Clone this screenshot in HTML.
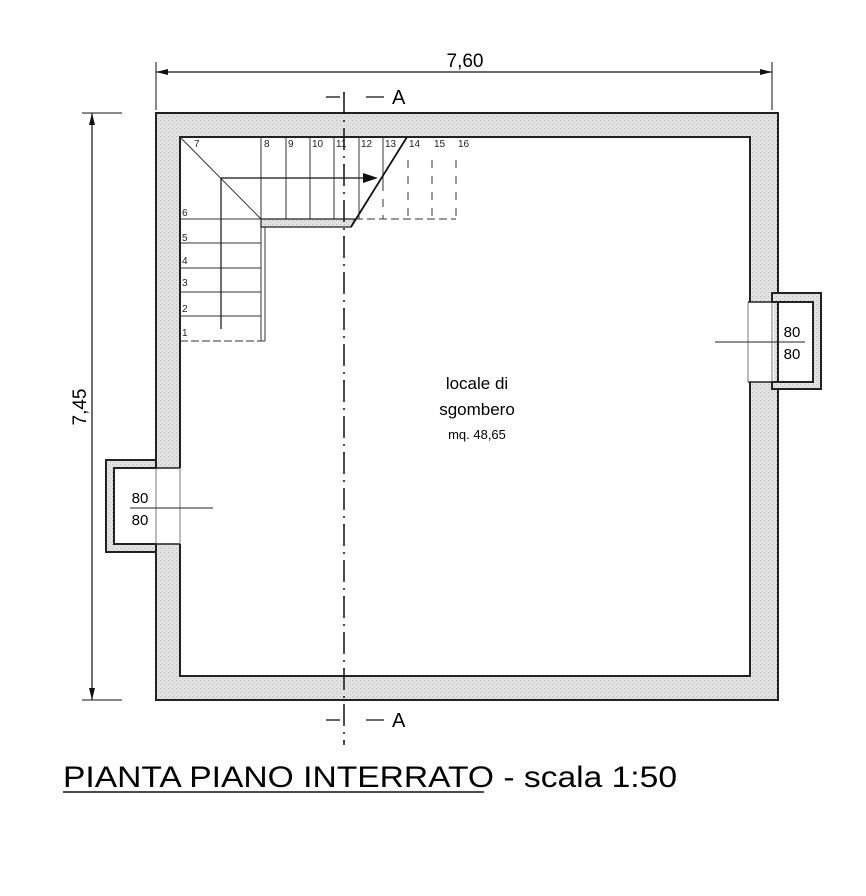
<!DOCTYPE html>
<html><head><meta charset="utf-8"><style>
html,body{margin:0;padding:0;background:#fff;}
svg{display:block;font-family:"Liberation Sans",sans-serif;}
</style></head><body>
<svg width="866" height="896" viewBox="0 0 866 896" xmlns="http://www.w3.org/2000/svg">
<defs>
<pattern id="h" width="4" height="4" patternUnits="userSpaceOnUse">
<rect width="4" height="4" fill="#e2e2e2"/>
<rect x="0" y="0" width="1" height="1" fill="#b8b8b8"/>
<rect x="2" y="2" width="1" height="1" fill="#c4c4c4"/>
</pattern>
</defs>
<!-- walls -->
<path d="M156,113 H778 V700 H156 Z M180,137 V676 H750 V137 Z" fill="url(#h)" fill-rule="evenodd" stroke="#222" stroke-width="2"/>
<!-- right niche -->
<rect x="748" y="302" width="26" height="80" fill="#fff"/>
<path d="M772,293 H821 V389 H772 V382 H813 V302 H772 Z" fill="url(#h)" stroke="#222" stroke-width="2"/>
<line x1="748" y1="302" x2="772" y2="302" stroke="#222" stroke-width="1.5"/>
<line x1="748" y1="382" x2="772" y2="382" stroke="#222" stroke-width="1.5"/>
<line x1="748" y1="302" x2="748" y2="382" stroke="#555" stroke-width="0.8"/>
<line x1="772" y1="302" x2="772" y2="382" stroke="#555" stroke-width="0.8"/>
<line x1="715" y1="342" x2="805" y2="342" stroke="#222" stroke-width="1"/>
<text x="792" y="337" font-size="15" text-anchor="middle">80</text>
<text x="792" y="359" font-size="15" text-anchor="middle">80</text>
<!-- left niche -->
<rect x="154" y="468" width="28" height="76" fill="#fff"/>
<path d="M156,460 H106 V552 H156 V544 H114 V468 H156 Z" fill="url(#h)" stroke="#222" stroke-width="2"/>
<line x1="156" y1="468" x2="180" y2="468" stroke="#222" stroke-width="1.5"/>
<line x1="156" y1="544" x2="180" y2="544" stroke="#222" stroke-width="1.5"/>
<line x1="156" y1="468" x2="156" y2="544" stroke="#555" stroke-width="0.8"/>
<line x1="180" y1="468" x2="180" y2="544" stroke="#555" stroke-width="0.8"/>
<line x1="130" y1="508" x2="213" y2="508" stroke="#222" stroke-width="1"/>
<text x="140" y="503" font-size="15" text-anchor="middle">80</text>
<text x="140" y="525" font-size="15" text-anchor="middle">80</text>
<!-- stairs -->
<g stroke="#333" stroke-width="1" fill="none">
<line x1="180" y1="137" x2="261" y2="219"/>
<line x1="180" y1="219" x2="261" y2="219"/>
<line x1="180" y1="243" x2="261" y2="243"/>
<line x1="180" y1="268" x2="261" y2="268"/>
<line x1="180" y1="292" x2="261" y2="292"/>
<line x1="180" y1="316" x2="261" y2="316"/>
<line x1="180" y1="341" x2="265" y2="341" stroke-dasharray="8,3"/>
<line x1="261" y1="137" x2="261" y2="341"/>
<line x1="265" y1="227" x2="265" y2="341"/>
<line x1="286" y1="137" x2="286" y2="219"/>
<line x1="310" y1="137" x2="310" y2="219"/>
<line x1="334" y1="137" x2="334" y2="219"/>
<line x1="359" y1="137" x2="359" y2="219"/>
<line x1="383" y1="137" x2="383" y2="183"/>
<line x1="432" y1="160" x2="432" y2="219" stroke-dasharray="8,8"/>
<line x1="456" y1="160" x2="456" y2="219" stroke-dasharray="8,8"/>
<line x1="408" y1="160" x2="408" y2="219" stroke-dasharray="8,8"/>
<line x1="383" y1="183" x2="383" y2="219" stroke-dasharray="8,8"/>
<line x1="355" y1="219" x2="456" y2="219" stroke-dasharray="8,4"/>
</g>
<path d="M261,219 H355 L351,227 H261 Z" fill="url(#h)" stroke="#222" stroke-width="1.2"/>
<line x1="407" y1="137" x2="351" y2="227" stroke="#111" stroke-width="1.8"/>
<line x1="221" y1="178" x2="221" y2="329" stroke="#111" stroke-width="1.2"/>
<line x1="221" y1="178" x2="365" y2="178" stroke="#111" stroke-width="1.2"/>
<polygon points="363,173 378,178 363,183" fill="#111"/>
<g font-size="10" fill="#222">
<text x="194" y="147">7</text><text x="264" y="147">8</text><text x="288" y="147">9</text><text x="312" y="147">10</text><text x="336" y="147">11</text><text x="361" y="147">12</text><text x="385" y="147">13</text><text x="409" y="147">14</text><text x="434" y="147">15</text><text x="458" y="147">16</text>
<text x="182" y="216">6</text><text x="182" y="241">5</text><text x="182" y="264">4</text><text x="182" y="286">3</text><text x="182" y="312">2</text><text x="182" y="336">1</text>
</g>
<!-- axis -->
<line x1="344" y1="92" x2="344" y2="745" stroke="#111" stroke-width="1.5" stroke-dasharray="22,6,2,6"/>
<line x1="326" y1="97" x2="340" y2="97" stroke="#111" stroke-width="1.3"/>
<line x1="366" y1="97" x2="384" y2="97" stroke="#111" stroke-width="1.3"/>
<text x="392" y="104" font-size="20">A</text>
<line x1="326" y1="720" x2="340" y2="720" stroke="#111" stroke-width="1.3"/>
<line x1="366" y1="720" x2="384" y2="720" stroke="#111" stroke-width="1.3"/>
<text x="392" y="727" font-size="20">A</text>
<!-- dimensions -->
<line x1="156" y1="72" x2="772" y2="72" stroke="#111" stroke-width="1.2"/>
<line x1="156" y1="62" x2="156" y2="110" stroke="#111" stroke-width="1"/>
<line x1="772" y1="62" x2="772" y2="110" stroke="#111" stroke-width="1"/>
<polygon points="156,72 168,69 168,75" fill="#111"/>
<polygon points="772,72 760,69 760,75" fill="#111"/>
<text x="465" y="67" font-size="19" text-anchor="middle">7,60</text>
<line x1="92" y1="113" x2="92" y2="700" stroke="#111" stroke-width="1.2"/>
<line x1="82" y1="113" x2="122" y2="113" stroke="#111" stroke-width="1"/>
<line x1="82" y1="700" x2="122" y2="700" stroke="#111" stroke-width="1"/>
<polygon points="92,113 89,125 95,125" fill="#111"/>
<polygon points="92,700 89,688 95,688" fill="#111"/>
<text transform="translate(86,407) rotate(-90)" font-size="19" text-anchor="middle">7,45</text>
<!-- room label -->
<text x="477" y="389" font-size="17" text-anchor="middle">locale di</text>
<text x="477" y="415" font-size="17" text-anchor="middle">sgombero</text>
<text x="477" y="439" font-size="13" text-anchor="middle">mq. 48,65</text>
<!-- title -->
<text x="63" y="787" font-size="30" textLength="614" lengthAdjust="spacingAndGlyphs">PIANTA PIANO INTERRATO - scala 1:50</text>
<line x1="63" y1="792" x2="484" y2="792" stroke="#111" stroke-width="1.5"/>
</svg>
</body></html>
